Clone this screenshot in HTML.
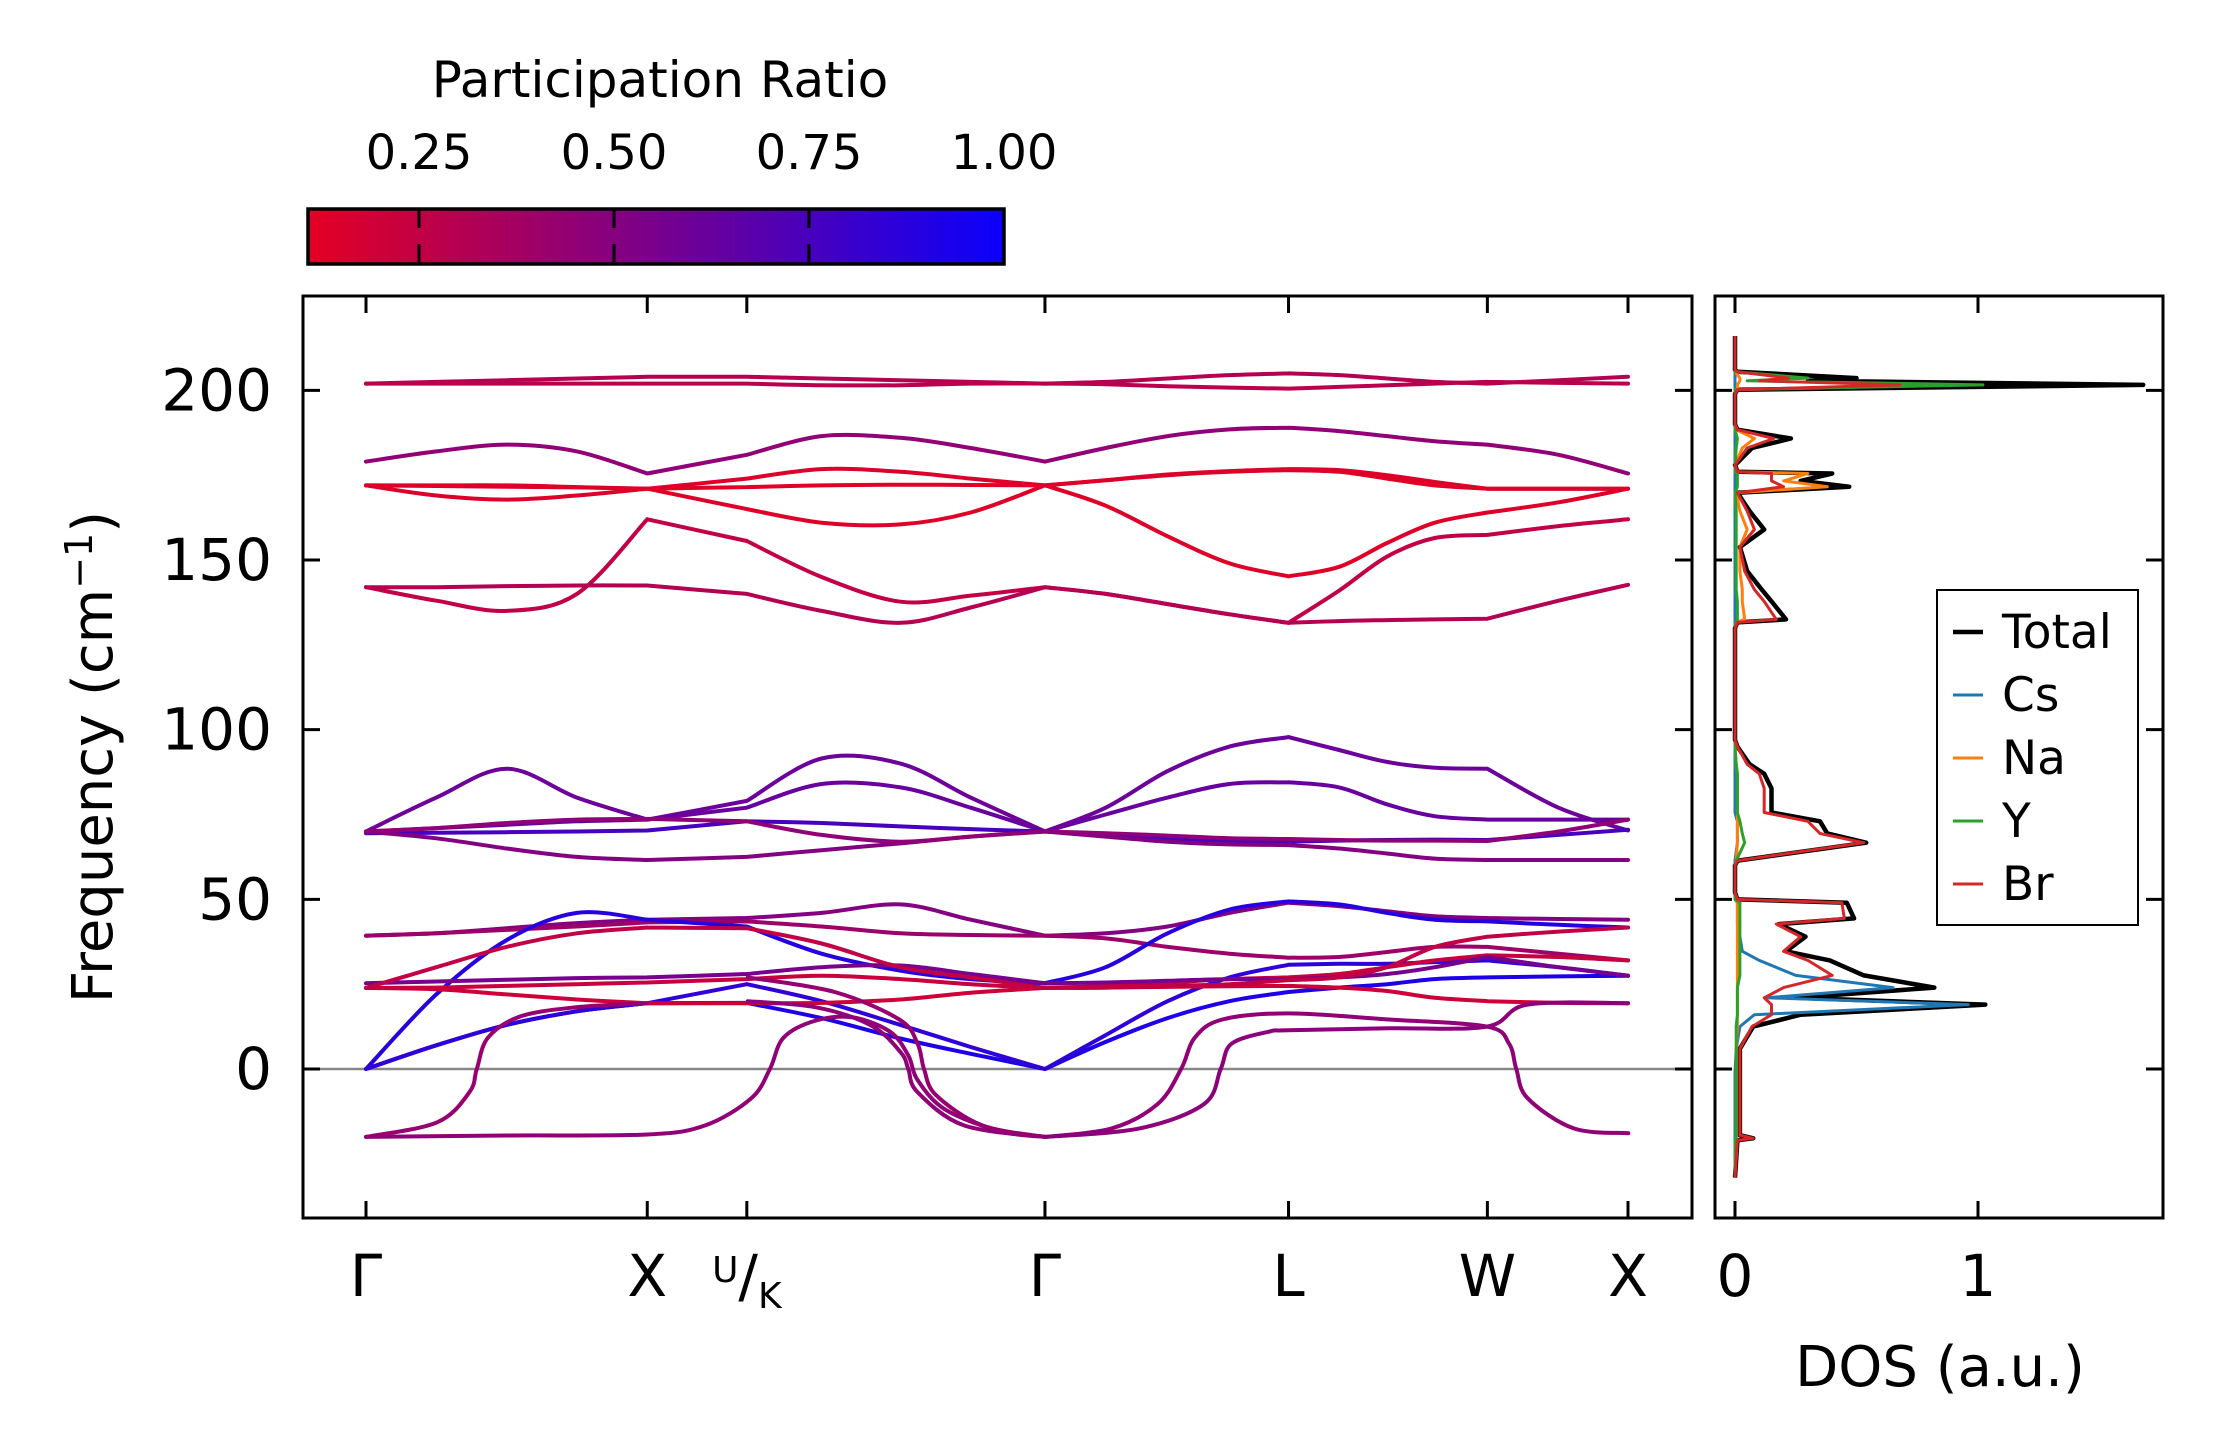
<!DOCTYPE html>
<html><head><meta charset="utf-8"><style>
html,body{margin:0;padding:0;background:#fff;}
svg{display:block;font-family:"DejaVu Sans","Liberation Sans",sans-serif;}
</style></head><body>
<svg id="chart" width="2222" height="1455" viewBox="0 0 2222 1455" xmlns="http://www.w3.org/2000/svg">
<defs>
<linearGradient id="cbgrad" x1="0" x2="1" y1="0" y2="0">
<stop offset="0" stop-color="rgb(228,0,35)"/>
<stop offset="0.5" stop-color="rgb(120,0,140)"/>
<stop offset="1" stop-color="rgb(10,0,252)"/>
</linearGradient>
<clipPath id="mainclip"><rect x="303" y="296" width="1389" height="922"/></clipPath>
<clipPath id="dosclip"><rect x="1715" y="296" width="448" height="922"/></clipPath>
</defs>
<g id="colorbar">
<text x="660" y="97" font-size="50" text-anchor="middle">Participation Ratio</text>
<rect x="308" y="209" width="696" height="55" fill="url(#cbgrad)" stroke="#000" stroke-width="3.5"/>
</g>
<g id="main"></g>
<g id="dos"></g>
</svg>
<script>
// ---- band structure data ----
const kGrid = [0,0.25,0.5,0.75,1,1.354,1.62,1.9,2.15,2.414,2.63,2.85,3.07,3.28,3.46,3.63,3.80,3.987,4.24,4.487];
const kLabels = ["Γ","X","U/K","Γ","L","W","X"];
const kNodes = [0,1,1.354,2.414,3.280,3.987,4.487];
const yTicks = [0,50,100,150,200];
const cbTicks = [0.25,0.5,0.75,1.0];
const cbTickLabels = ["0.25","0.50","0.75","1.00"];

const bandA = [202,202.5,203,203.5,204,204,203.5,203,202.5,202,202.5,203.5,204.5,205,204.5,203.5,202.5,202,203,204];
const bandB = [202,202,202,202,202,202,201.5,201.5,202,202,201.8,201.2,200.8,200.5,201,201.5,202,202.5,202.2,202];
const bandC = [179,182,184,182,175.5,181,186.5,186,183,179,183,186.5,188.5,189,188,186.5,185,184,181,175.5];
const bandD = [172,171.8,171.6,171.4,171,171.5,172,172.2,172.1,172,173.5,175,176,176.5,176,174,172,171,171,171];
const bandE = [172,169,167.8,169,171,174,176.8,176,174,172,173.5,175.2,176.2,176.8,176.5,175,173,171,171,171];
const bandF = [172,172,172,171.5,171,165,161,160.5,164,172,166,157,149,145.2,148,155,161,164,167,171];
const bandG = [142,138,135,140,162,155.6,145,137.7,139.5,142,140,137,134,131.5,141,151,156.5,157.4,160,162];
const bandH = [142,142,142.3,142.5,142.5,140,135,131.5,136,142,140,137,134,131.5,132,132.3,132.5,132.7,138,142.7];
const bandI = [70,80,88.5,80,73.5,79,91.5,90,80,70,77,87.8,95,97.8,94,90.5,88.8,88.5,77,70.3];
const bandJ = [70,71,72,73,73.5,77,84,83,77,70,75,80,84,84.5,83,78,74.5,73.5,73.5,73.5];
const bandK = [69.5,69.6,69.8,70,70.3,73,72.5,71.5,70.7,70,69,68,67.2,67,67.3,67.5,67.6,67.5,69,70.5];
const bandL = [70,68,65,62.5,61.6,62.5,64.5,66.5,68.5,70,68.5,67,66.2,66,65,63.5,62,61.6,61.6,61.6];
const bandM = [70,71,72.5,73.5,73.7,73,69,67,68.5,70,69.5,68.8,68,67.8,67.5,67.3,67.3,67.2,70,73.5];
const bandN1 = [39.3,40,41.5,43,44,44.5,46,48.5,44,39.3,40,42,46,49,48,46.5,45,44.5,44.2,44];
const bandN2 = [39.3,40,41,42,43.2,43.5,42,40,39.5,39.3,38.5,36,34,32.8,33,34.5,36,36,34,32];
const bandN3 = [0,22,38,46,44,42,34,29,26.5,25.3,30,40,47,49.4,48.5,46,44,43.5,42.5,41.7];
const bandN4 = [0,7,13,17,19.4,19.5,15,9,4.5,0,8,15,20,22.7,24,25,26.5,27,27.3,27.5];
const bandN5 = [0,7,13,17,19.4,25,20,13,6.5,0,10,20,27,30.7,31,31,31.5,32,30,27.5];
const bandR1 = [23.9,23.5,22,20.5,19.4,19.4,19.5,20.5,22.5,23.9,24,24.2,24.4,24.5,24,23,21,20,19.5,19.4];
const bandR2 = [23.9,24,24.5,25,25.5,26.5,27.5,26.5,25,23.9,24.5,25.5,26.5,27,28,30,32,33.5,33,32];
const bandR3 = [25.3,25.8,26.3,26.8,27,28,30,30.5,28,25.3,25.5,26,26.5,26.5,27,28,30,33,30,27.5];
const bandR4 = [23.9,30,36,40,41.7,41.5,37,30,27,23.9,24,24.5,25,26.2,27,30,36,39,40.5,41.7];
const gridBands = [bandA,bandB,bandC,bandD,bandE,bandF,bandG,bandH,bandI,bandJ,bandK,bandL,bandM,bandN1,bandN2,bandN3,bandN4,bandN5,bandR1,bandR2,bandR3,bandR4];
const gridPR = [0.3,0.28,0.45,0.12,0.14,0.13,0.25,0.3,0.6,0.62,0.75,0.5,0.45,0.5,0.4,0.88,0.92,0.85,0.2,0.22,0.55,0.25];

// soft (imaginary) modes, own k sampling
const softK1 = [0,0.253,0.368,0.394,0.434,0.549,0.746,1];
const softF1 = [-20,-15.7,-6.8,0,9.3,15.5,18.2,19.4];
const softK2 = [0,0.5,1,1.206,1.370,1.436,1.485,1.600,1.731,1.863,1.928,1.961,2.060,2.257,2.414];
const softF2 = [-20,-19.6,-19.3,-16.6,-8.6,0,9.3,14.3,15.2,11,4,-3.2,-12,-18.4,-20];
const softK3 = [1.357,1.600,1.797,1.902,1.928,1.961,2.126,2.414];
const softF3 = [20,18.2,12.8,4.8,0,-6.8,-16.6,-20];
const softK4 = [1.357,1.666,1.896,1.961,1.984,2.027,2.191,2.414];
const softF4 = [27,22.7,14.6,7.5,0,-7.7,-16.6,-20];
const softK5 = [2.414,2.651,2.815,2.898,2.947,3.045,3.279,3.637,3.985,4.064,4.090,4.130,4.294,4.488];
const softF5 = [-20,-17.5,-10.3,0,9.3,14.6,16.4,14.6,12.5,7.5,0,-8.6,-17.5,-18.9];
const softK6 = [2.414,2.750,2.980,3.039,3.078,3.210,3.279,3.637,3.985,4.130,4.487];
const softF6 = [-20,-17.5,-10.3,0,7.5,11,11.4,12,12.5,19,19.4];
const softKs = [softK1,softK2,softK3,softK4,softK5,softK6];
const softFs = [softF1,softF2,softF3,softF4,softF5,softF6];
const softPR = [0.42,0.45,0.45,0.43,0.45,0.47];

// ---- DOS data ----
const dosFreq = [-32,-21,-20.4,-19.5,-1,6,12.5,16,19,21,24,27.6,32,34.7,39,42.7,44.4,49,50,52,60,61.4,66.7,69.4,73,75.6,82.7,87,89.8,95,97,130,131.6,132.5,137.8,141.3,146.7,153.8,159,164.4,169.8,171.6,173.3,175.5,176,178,183,185.8,188.4,190,199,200.2,201.6,202.8,203.6,205.5,206,216];
const dosTotal = [0,0.01,0.075,0.02,0.02,0.02,0.075,0.27,1.03,0.25,0.82,0.53,0.39,0.21,0.29,0.18,0.49,0.46,0.01,0,0,0.01,0.54,0.38,0.35,0.15,0.15,0.12,0.06,0.01,0,0,0.01,0.21,0.15,0.11,0.05,0.02,0.12,0.06,0.01,0.47,0.27,0.40,0.01,0,0.07,0.23,0.01,0,0,0.01,1.68,0.3,0.5,0.01,0,0];
const dosCs = [0,0,0,0,0,0.005,0.02,0.08,0.96,0.13,0.65,0.25,0.1,0.03,0.02,0.01,0.01,0.01,0,0,0,0,0.01,0.01,0.01,0,0,0,0,0,0,0,0,0,0,0,0,0,0,0,0,0,0,0,0,0,0,0,0,0,0,0,0,0,0,0,0,0];
const dosNa = [0,0,0.005,0.005,0.005,0.005,0.01,0.01,0.01,0.01,0.01,0.01,0.01,0.01,0.01,0.01,0.01,0.01,0,0,0,0.005,0.01,0.01,0.01,0.01,0.01,0.01,0.005,0,0,0,0.005,0.04,0.03,0.03,0.02,0.02,0.05,0.02,0.005,0.38,0.2,0.3,0.005,0,0.03,0.08,0.005,0,0,0.01,0.01,0.02,0.02,0,0,0];
const dosY = [0,0,0.005,0.005,0.005,0.005,0.005,0.01,0.01,0.01,0.01,0.02,0.02,0.02,0.02,0.02,0.02,0.02,0,0,0,0.005,0.04,0.03,0.02,0.01,0.01,0.01,0.005,0,0,0,0.005,0.01,0.01,0.005,0.005,0.005,0.005,0.005,0,0.01,0.01,0.01,0,0,0.005,0.01,0,0,0,0,1.02,0.05,0.3,0,0,0];
const dosBr = [0,0.01,0.075,0.02,0.02,0.02,0.07,0.15,0.15,0.12,0.2,0.4,0.3,0.2,0.27,0.17,0.45,0.44,0.01,0,0,0.01,0.53,0.35,0.3,0.12,0.12,0.1,0.05,0.01,0,0,0.01,0.17,0.12,0.08,0.04,0.02,0.08,0.05,0.01,0.2,0.15,0.15,0.01,0,0.05,0.16,0.01,0,0,0.01,0.68,0.1,0.22,0.01,0,0];
const dosTicks = [0,1];
const dosSeriesNames = ["Total","Cs","Na","Y","Br"];
const dosColors = ["#000000","#1f77b4","#ff7f0e","#2ca02c","#d62728"];

// ---- axes ----
const NS = "http://www.w3.org/2000/svg";
const M = {l:303,r:1692,t:296,b:1218};
const D = {l:1715,r:2163};
const fMin = -43.9, fMax = 227.8;
const kMax = 4.487;
const xk = k => 366 + (k/kMax)*(1628-366);
const yf = f => M.b - (f-fMin)/(fMax-fMin)*(M.b-M.t);
const xd = v => 1735 + v*243;
const xcb = v => 419 + (v-0.25)/0.75*(1004-419);

function mk(tag, attrs, parent){
  const e = document.createElementNS(NS, tag);
  for (const a in attrs) e.setAttribute(a, attrs[a]);
  parent.appendChild(e);
  return e;
}
function prColor(p){
  let t = (p-0.11)/0.89; t = Math.max(0,Math.min(1,t));
  const r = Math.round(228*(1-t)+10*t), b = Math.round(35*(1-t)+252*t);
  return `rgb(${r},0,${b})`;
}
function smoothPath(pts){
  if (pts.length < 2) return "";
  let d = `M${pts[0][0].toFixed(1)},${pts[0][1].toFixed(1)}`;
  for (let i=0;i<pts.length-1;i++){
    const p0 = pts[Math.max(0,i-1)], p1 = pts[i], p2 = pts[i+1], p3 = pts[Math.min(pts.length-1,i+2)];
    const c1x = p1[0]+(p2[0]-p0[0])/6, c1y = p1[1]+(p2[1]-p0[1])/6;
    const c2x = p2[0]-(p3[0]-p1[0])/6, c2y = p2[1]-(p3[1]-p1[1])/6;
    d += ` C${c1x.toFixed(1)},${c1y.toFixed(1)} ${c2x.toFixed(1)},${c2y.toFixed(1)} ${p2[0].toFixed(1)},${p2[1].toFixed(1)}`;
  }
  return d;
}

const main = document.getElementById("main");
const dos = document.getElementById("dos");
const cb = document.getElementById("colorbar");

cbTicks.forEach((v,i)=>{
  const x = xcb(v);
  if (v < 1) {
    const t = mk("line",{x1:x,x2:x,y1:210,y2:262,stroke:"#000","stroke-width":3,"stroke-dasharray":"18 16"},cb);
    
    
  }
  const lb = mk("text",{x:x,y:169,"font-size":48,"text-anchor":"middle"},cb);
  lb.textContent = cbTickLabels[i];
  
  
});

const zl = mk("line",{x1:M.l,x2:M.r,y1:yf(0),y2:yf(0),stroke:"#888","stroke-width":2.5},main);



const bandsG = mk("g",{"clip-path":"url(#mainclip)",fill:"none","stroke-width":4,"stroke-linecap":"round"},main);


const segs = [[0,4],[4,5],[5,9],[9,13],[13,17],[17,19]];
gridBands.forEach((band,bi)=>{
  let d = "";
  segs.forEach(([a,b])=>{
    const pts = [];
    for (let i=a;i<=b;i++) pts.push([xk(kGrid[i]), yf(band[i])]);
    d += smoothPath(pts) + " ";
  });
  const p = mk("path",{d:d,stroke:prColor(gridPR[bi])},bandsG);
  
  
});
softKs.forEach((ks,si)=>{
  const pts = ks.map((k,i)=>[xk(k), yf(softFs[si][i])]);
  const p = mk("path",{d:smoothPath(pts),stroke:prColor(softPR[si])},bandsG);
  
  
});

const mf = mk("rect",{x:M.l,y:M.t,width:M.r-M.l,height:M.b-M.t,fill:"none",stroke:"#000","stroke-width":3},main);


yTicks.forEach(v=>{
  const y = yf(v);
  mk("line",{x1:M.l,x2:M.l+17,y1:y,y2:y,stroke:"#000","stroke-width":3},main);
  mk("line",{x1:M.r-17,x2:M.r,y1:y,y2:y,stroke:"#000","stroke-width":3},main);
  const t = mk("text",{x:272,y:y+20,"font-size":58,"text-anchor":"end"},main);
  t.textContent = String(v);
  
  
});
kNodes.forEach((k,i)=>{
  const x = xk(k);
  mk("line",{x1:x,x2:x,y1:M.b,y2:M.b-17,stroke:"#000","stroke-width":3},main);
  mk("line",{x1:x,x2:x,y1:M.t,y2:M.t+17,stroke:"#000","stroke-width":3},main);
  const t = mk("text",{x:x,y:1296,"font-size":58,"text-anchor":"middle"},main);
  if (kLabels[i] === "U/K") {
    const a = mk("tspan",{"font-size":36,dy:-14},t); a.textContent="U";
    const b = mk("tspan",{"font-size":58,dy:14},t); b.textContent="/";
    const c = mk("tspan",{"font-size":36,dy:12},t); c.textContent="K";
  } else t.textContent = kLabels[i];
  
  
});
const yl = mk("text",{x:0,y:0,"font-size":56,"text-anchor":"middle",transform:`translate(112,757) rotate(-90)`},main);
yl.innerHTML = 'Frequency (cm<tspan font-size="38" dy="-20">−1</tspan><tspan dy="20">)</tspan>';



const dosG = mk("g",{"clip-path":"url(#dosclip)",fill:"none","stroke-width":3.5,"stroke-linejoin":"round"},dos);


const dosSeries = [dosTotal,dosCs,dosNa,dosY,dosBr];
dosSeries.forEach((s,si)=>{
  const d = s.map((v,i)=>(i?"L":"M")+xd(v).toFixed(1)+","+yf(dosFreq[i]).toFixed(1)).join(" ");
  const p = mk("path",{d:d,stroke:dosColors[si],"stroke-width":si===0?4.5:3},dosG);
  
  
});
const df = mk("rect",{x:D.l,y:M.t,width:D.r-D.l,height:M.b-M.t,fill:"none",stroke:"#000","stroke-width":3},dos);


yTicks.forEach(v=>{
  const y = yf(v);
  mk("line",{x1:D.l,x2:D.l+17,y1:y,y2:y,stroke:"#000","stroke-width":3},dos);
  mk("line",{x1:D.r-17,x2:D.r,y1:y,y2:y,stroke:"#000","stroke-width":3},dos);
});
dosTicks.forEach(v=>{
  const x = xd(v);
  mk("line",{x1:x,x2:x,y1:M.b,y2:M.b-17,stroke:"#000","stroke-width":3},dos);
  mk("line",{x1:x,x2:x,y1:M.t,y2:M.t+17,stroke:"#000","stroke-width":3},dos);
  const t = mk("text",{x:x,y:1296,"font-size":58,"text-anchor":"middle"},dos);
  t.textContent = String(v);
  
  
});
const dl = mk("text",{x:1940,y:1386,"font-size":56,"text-anchor":"middle"},dos);
dl.textContent = "DOS (a.u.)";



const lg = mk("g",{},dos);


mk("rect",{x:1937,y:590,width:201,height:335,fill:"#fff",stroke:"#000","stroke-width":2},lg);
dosSeriesNames.forEach((n,i)=>{
  const y = 632 + i*63;
  const ln = mk("line",{x1:1953,x2:1983,y1:y,y2:y,stroke:dosColors[i],"stroke-width":i===0?4.5:3},lg);
  
  
  const t = mk("text",{x:2002,y:y+16,"font-size":47},lg);
  t.textContent = n;
  
  
});
</script>
</body></html>
